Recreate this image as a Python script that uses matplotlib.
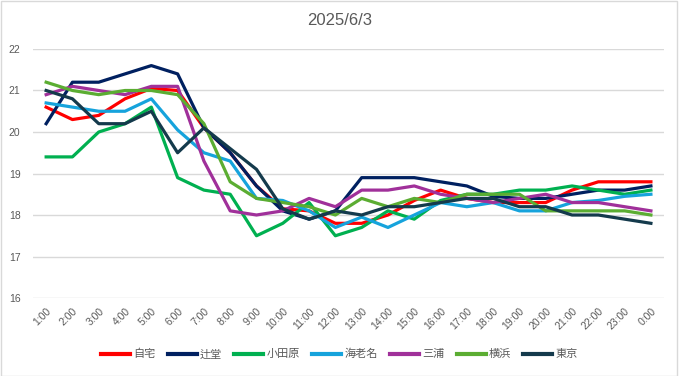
import matplotlib
matplotlib.use("Agg")
import matplotlib.pyplot as plt
from matplotlib.patches import Rectangle

plt.rcParams['font.family'] = ['Liberation Sans', 'Noto Sans CJK JP']

hours = ["1:00", "2:00", "3:00", "4:00", "5:00", "6:00", "7:00", "8:00", "9:00", "10:00",
         "11:00", "12:00", "13:00", "14:00", "15:00", "16:00", "17:00", "18:00", "19:00",
         "20:00", "21:00", "22:00", "23:00", "0:00"]

jitaku = [20.6, 20.3, 20.4, 20.8, 21.05, 21.0, 20.1, 19.5, 18.7, 18.15, 18.1, 17.8,
          17.8, 18.0, 18.35, 18.6, 18.4, 18.3, 18.3, 18.3, 18.6, 18.8, 18.8, 18.8]
tsujido = [20.2, 21.2, 21.2, 21.4, 21.6, 21.4, 20.1, 19.5, 18.7, 18.1, 17.9, 18.1,
           18.9, 18.9, 18.9, 18.8, 18.7, 18.45, 18.4, 18.4, 18.5, 18.6, 18.6, 18.7]
odawara = [19.4, 19.4, 20.0, 20.2, 20.6, 18.9, 18.6, 18.5, 17.5, 17.8, 18.3, 17.5,
           17.7, 18.1, 17.9, 18.35, 18.5, 18.5, 18.6, 18.6, 18.7, 18.6, 18.5, 18.6]
ebina = [20.7, 20.6, 20.5, 20.5, 20.8, 20.05, 19.5, 19.3, 18.4, 18.35, 18.1, 17.7,
         17.95, 17.7, 18.0, 18.3, 18.2, 18.3, 18.1, 18.1, 18.3, 18.35, 18.45, 18.5]
miura = [20.9, 21.1, 21.0, 20.9, 21.1, 21.1, 19.3, 18.1, 18.0, 18.1, 18.4, 18.2,
         18.6, 18.6, 18.7, 18.5, 18.4, 18.3, 18.4, 18.5, 18.3, 18.3, 18.2, 18.1]
yokohama = [21.2, 21.0, 20.9, 21.0, 21.0, 20.9, 20.2, 18.8, 18.4, 18.3, 18.2, 18.0,
            18.4, 18.2, 18.4, 18.3, 18.5, 18.5, 18.5, 18.1, 18.1, 18.1, 18.1, 18.0]
tokyo = [21.0, 20.8, 20.2, 20.2, 20.5, 19.5, 20.1, 19.6, 19.1, 18.15, 17.9, 18.1,
         18.0, 18.2, 18.2, 18.3, 18.4, 18.4, 18.2, 18.2, 18.0, 18.0, 17.9, 17.8]

names = ["自宅", "辻堂", "小田原", "海老名", "三浦", "横浜", "東京"]
series = [jitaku, tsujido, odawara, ebina, miura, yokohama, tokyo]
colors = ["#FF0000", "#002060", "#00B050", "#16A3DC", "#A0309A", "#5BAD32", "#143A4C"]

fig = plt.figure(figsize=(6.79, 3.76), dpi=100)
ax = fig.add_axes([0.0486, 0.2074, 0.9294, 0.6623])

x = range(len(hours))
for name, vals, c in zip(names, series, colors):
    ax.plot(x, vals, color=c, linewidth=2.3, label=name, solid_joinstyle='round')

ax.set_xlim(-0.5, len(hours) - 0.5)
ax.set_ylim(16, 22)
ax.set_yticks(range(16, 23))
ax.set_xticks(list(x))
ax.set_xticklabels(hours, rotation=45, ha='right', rotation_mode='anchor')
ax.tick_params(axis='both', length=0, labelsize=7.5, labelcolor='#595959')
ax.tick_params(axis='x', pad=6)
ax.tick_params(axis='y', pad=9)
ax.grid(axis='y', color='#D9D9D9', linewidth=1)
ax.set_axisbelow(True)
for s in ax.spines.values():
    s.set_visible(False)

fig.text(0.5, 0.945, "2025/6/3", ha='center', va='center', fontsize=12, color='#595959')

leg = fig.legend(loc='center', bbox_to_anchor=(0.5, 0.058), ncol=7, frameon=False,
                 fontsize=8, handlelength=2.6, handletextpad=0.3, columnspacing=1.1)
for t in leg.get_texts():
    t.set_color('#595959')
for h in leg.legend_handles:
    h.set_linewidth(3)

fig.patches.append(Rectangle((0.001, 0.001), 0.996, 0.996, transform=fig.transFigure,
                             fill=False, edgecolor='#D9D9D9', linewidth=1))

fig.savefig("out.png", dpi=100)
